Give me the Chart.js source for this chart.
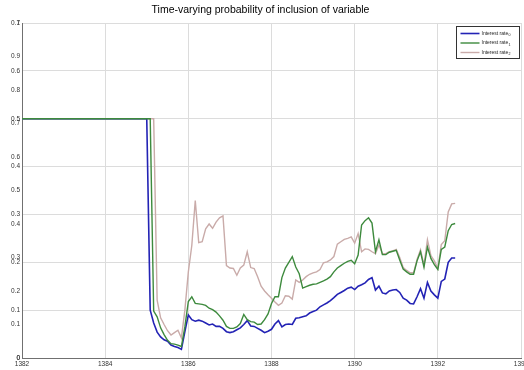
<!DOCTYPE html>
<html>
<head>
<meta charset="utf-8">
<title>Time-varying probability of inclusion of variable</title>
<script src="https://cdn.jsdelivr.net/npm/chart.js@4.4.6/dist/chart.umd.min.js"></script>
<style>
  html, body { margin: 0; padding: 0; background: #fff; }
  #wrap { width: 524px; height: 370px; }
</style>
</head>
<body>
<div id="wrap"><canvas id="chart" width="524" height="370"></canvas></div>
<script>
const FONT = '"Liberation Sans", Arial, Helvetica, sans-serif';

const chartTitle = "Time-varying probability of inclusion of variable";
const seriesNames = ["Interest rate", "Interest rate", "Interest rate"];
const seriesSubs = ["0", "1", "2"];
const seriesLabels = ["Interest rate\u2080", "Interest rate\u2081", "Interest rate\u2082"];

// tick labels
const xTicks = [1382, 1384, 1386, 1388, 1390, 1392, 1394];
const yTicksInner = [0, 0.1, 0.2, 0.3, 0.4, 0.5, 0.6, 0.7];            // gridded axis
const yTicksOuter = [0, 0.1, 0.2, 0.3, 0.4, 0.5, 0.6, 0.7, 0.8, 0.9, 1]; // overlaid 0-1 axis

// the series hold their first value from flatFrom, then one value a month from monthlyFrom
const flatFrom = 1382;
const monthlyFrom = 1385;

const rate0 = [
  0.5, 0.10, 0.073, 0.054, 0.044, 0.038, 0.035, 0.027, 0.024, 0.022, 0.018, 0.055,
  0.090, 0.080, 0.077, 0.079, 0.077, 0.073, 0.069, 0.071, 0.066, 0.066, 0.062, 0.055,
  0.053, 0.055, 0.059, 0.063, 0.070, 0.078, 0.067, 0.066, 0.062, 0.058, 0.053, 0.056,
  0.060, 0.071, 0.078, 0.065, 0.070, 0.071, 0.070, 0.083, 0.084, 0.086, 0.088, 0.094,
  0.097, 0.100, 0.107, 0.111, 0.115, 0.120, 0.126, 0.133, 0.137, 0.141, 0.146, 0.148,
  0.143, 0.150, 0.153, 0.157, 0.164, 0.168, 0.142, 0.150, 0.136, 0.134, 0.140, 0.142,
  0.143, 0.137, 0.125, 0.121, 0.114, 0.113, 0.128, 0.145, 0.125, 0.158, 0.140, 0.132,
  0.125, 0.160, 0.165, 0.200, 0.209, 0.209,
];

const rate1 = [
  0.5, 0.5, 0.098, 0.086, 0.063, 0.049, 0.037, 0.030, 0.029, 0.027, 0.024, 0.065,
  0.118, 0.128, 0.114, 0.113, 0.112, 0.110, 0.104, 0.101, 0.096, 0.088, 0.079, 0.066,
  0.062, 0.062, 0.065, 0.072, 0.091, 0.080, 0.076, 0.075, 0.070, 0.071, 0.080, 0.092,
  0.114, 0.128, 0.128, 0.168, 0.188, 0.200, 0.212, 0.190, 0.176, 0.146, 0.149, 0.152,
  0.154, 0.155, 0.158, 0.161, 0.165, 0.170, 0.180, 0.188, 0.193, 0.198, 0.202, 0.204,
  0.197, 0.215, 0.278, 0.287, 0.293, 0.282, 0.222, 0.247, 0.216, 0.216, 0.221, 0.223,
  0.225, 0.205, 0.186, 0.180, 0.175, 0.175, 0.203, 0.222, 0.190, 0.232, 0.208, 0.195,
  0.185, 0.227, 0.232, 0.266, 0.279, 0.281,
];

const rate2 = [
  0.5, 0.5, 0.5, 0.121, 0.084, 0.070, 0.057, 0.048, 0.053, 0.058, 0.042, 0.100,
  0.180, 0.235, 0.329, 0.241, 0.243, 0.270, 0.280, 0.271, 0.284, 0.293, 0.297, 0.193,
  0.188, 0.187, 0.173, 0.188, 0.194, 0.222, 0.189, 0.187, 0.170, 0.150, 0.140, 0.132,
  0.125, 0.117, 0.110, 0.115, 0.130, 0.129, 0.123, 0.163, 0.158, 0.163, 0.170, 0.175,
  0.178, 0.180, 0.185, 0.199, 0.201, 0.205, 0.212, 0.238, 0.243, 0.248, 0.250, 0.253,
  0.240, 0.260, 0.222, 0.228, 0.227, 0.222, 0.218, 0.236, 0.218, 0.218, 0.222, 0.224,
  0.227, 0.210, 0.189, 0.183, 0.178, 0.178, 0.206, 0.226, 0.194, 0.247, 0.214, 0.203,
  0.187, 0.237, 0.245, 0.305, 0.322, 0.323,
];

const colors = ["#2323b5", "#3d8a3d", "#c9aba9"];
const widths = [1.6, 1.4, 1.4];

function toPoints(vals) {
  return [{ x: flatFrom, y: vals[0] }].concat(vals.map((v, i) => ({ x: monthlyFrom + i / 12, y: v })));
}

function fmt(v) {
  return v === 0 ? "0" : String(+v.toFixed(1));
}

const tickFont = { family: FONT, size: 6.5 };

// the 0-1 axis takes no room of its own; widen its box after layout so its
// labels (clipped to the box) sit over the 0-0.7 axis labels
const overlayAxis = {
  id: "overlayAxis",
  afterLayout(chart) {
    chart.scales.y2.left = chart.scales.y.left;
  },
};

// small boxed legend in the top right corner of the plot, with subscripts
const legendBox = {
  id: "legendBox",
  afterDraw(chart) {
    const ctx = chart.ctx;
    const a = chart.chartArea;
    const w = 63, h = 32;
    const x = Math.round(a.right - w - 2) + 0.5;
    const y = Math.round(a.top + 3) + 0.5;
    ctx.save();
    ctx.fillStyle = "#fff";
    ctx.fillRect(x, y, w, h);
    ctx.strokeStyle = "#333";
    ctx.lineWidth = 1;
    ctx.strokeRect(x, y, w, h);
    seriesNames.forEach((name, i) => {
      const ly = y + 7 + i * 9.5;
      ctx.strokeStyle = colors[i];
      ctx.lineWidth = widths[i];
      ctx.beginPath();
      ctx.moveTo(x + 4, ly);
      ctx.lineTo(x + 23, ly);
      ctx.stroke();
      ctx.fillStyle = "#222";
      ctx.textBaseline = "middle";
      ctx.textAlign = "left";
      ctx.font = `5px ${FONT}`;
      ctx.fillText(name, x + 25, ly);
      const tw = ctx.measureText(name).width;
      ctx.font = `3.6px ${FONT}`;
      ctx.fillText(seriesSubs[i], x + 25 + tw + 0.3, ly + 1.6);
    });
    ctx.restore();
  },
};

new Chart(document.getElementById("chart"), {
  type: "line",
  data: {
    datasets: [rate0, rate1, rate2].map((vals, i) => ({
      label: seriesLabels[i],
      data: toPoints(vals),
      borderColor: colors[i],
      backgroundColor: colors[i],
      borderWidth: widths[i],
      pointRadius: 0,
      tension: 0,
      fill: false,
      yAxisID: "y",
      order: [1, 0, 2][i],
    })),
  },
  options: {
    responsive: false,
    animation: false,
    events: [],
    layout: { autoPadding: false, padding: { left: 0, right: 3, top: 0, bottom: 0 } },
    scales: {
      x: {
        type: "linear",
        min: 1382,
        max: 1394,
        afterBuildTicks: s => { s.ticks = xTicks.map(value => ({ value })); },
        afterFit: s => { s.height = 12; s.paddingLeft = 0; s.paddingRight = 0; },
        grid: { color: "#dcdcdc", lineWidth: 1, drawTicks: false },
        border: { color: "#707070", width: 1 },
        ticks: { font: tickFont, color: "#333", padding: 2, autoSkip: false, maxRotation: 0, callback: v => String(v) },
      },
      y: {
        position: "left",
        weight: 1,
        min: 0,
        max: 0.7,
        afterBuildTicks: s => { s.ticks = yTicksInner.map(value => ({ value })); },
        afterFit: s => { s.width = 22; },
        grid: { color: "#dcdcdc", lineWidth: 1, drawTicks: false },
        border: { color: "#707070", width: 1 },
        ticks: { font: tickFont, color: "#333", padding: 2, autoSkip: false, callback: fmt },
      },
      y2: {
        position: "left",
        weight: 0,
        min: 0,
        max: 1,
        afterBuildTicks: s => { s.ticks = yTicksOuter.map(value => ({ value })); },
        afterFit: s => { s.width = 0; },
        grid: { display: false, drawTicks: false },
        border: { display: false },
        ticks: { font: tickFont, color: "#333", padding: 2, autoSkip: false, callback: fmt },
      },
    },
    plugins: {
      legend: { display: false },
      tooltip: { enabled: false },
      title: {
        display: true,
        text: chartTitle,
        color: "#000",
        font: { family: FONT, size: 10.5, weight: "normal" },
        padding: { top: 4, bottom: 6.4 },
      },
    },
  },
  plugins: [overlayAxis, legendBox],
});
</script>
</body>
</html>
